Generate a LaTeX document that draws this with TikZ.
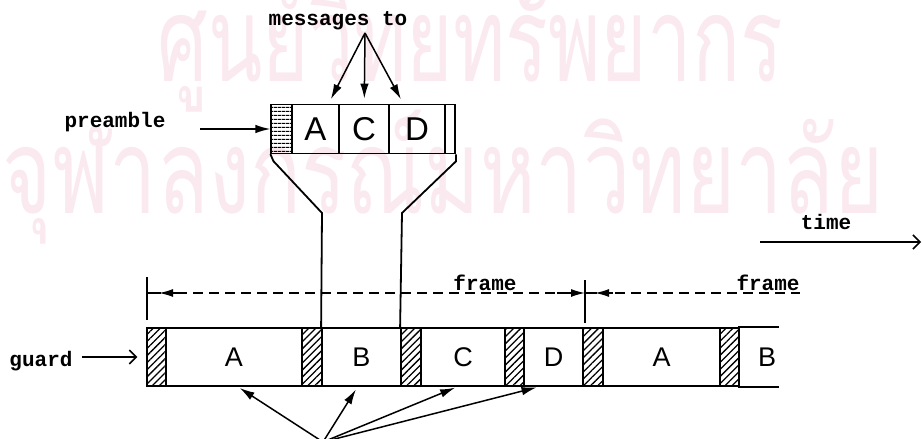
\documentclass[tikz,border=0pt]{standalone}
\usepackage{graphicx}
\usepackage{fontspec}
\setmainfont{Liberation Sans}
\newfontfamily\monofont{Liberation Mono}
\newfontfamily\thaifont[Script=Thai]{Loma}
\usetikzlibrary{arrows.meta,patterns.meta,calc}
\definecolor{wmark}{RGB}{251,233,240}

\begin{document}
\begin{tikzpicture}[x=1pt,y=-1pt,
  line width=1.8pt,
  lbl/.style={font=\monofont\bfseries\fontsize{21}{21}\selectfont, inner sep=0pt},
  cell/.style={draw, rectangle, inner sep=0pt, minimum height=58pt,
               font=\fontsize{27}{27}\selectfont},
  guardcell/.style={cell, pattern={Lines[angle=45,distance=5pt,line width=1.3pt]}},
  topcell/.style={draw, rectangle, inner sep=0pt, minimum height=49pt,
               font=\fontsize{33}{33}\selectfont},
  arr/.style={line width=1.5pt, -{Latex[length=15pt,width=8.5pt]}},
  barb/.style={line width=1.5pt, -{Straight Barb[length=7pt,width=14pt]}},
  dim/.style={line width=1.4pt, dash pattern=on 10pt off 6pt},
  wm/.style={anchor=base west, inner sep=0pt, text=wmark,
             font=\thaifont\fontsize{118}{118}\selectfont}
]
\useasboundingbox (0,0) rectangle (922,439);

% background watermark
\node[wm] (wm1) at (157,81) {\resizebox{625pt}{\height}{ศูนย์วิทยทรัพยากร}};
\node[wm] (wm2) at (2,213) {\resizebox{881pt}{\height}{จุฬาลงกรณ์มหาวิทยาลัย}};

% ---- burst on top ----
\node[topcell, minimum width=21pt,
      pattern={Lines[angle=0,distance=4pt,line width=1.2pt]}] (pre) at (281.5,129) {};
\node[topcell, minimum width=47pt] (tA) at (315.5,129) {A};
\node[topcell, minimum width=50pt] (tC) at (364,129) {C};
\node[topcell, minimum width=56pt] (tD) at (417,129) {D};
\node[topcell, minimum width=10pt] (tslot) at (450,129) {};

\node[lbl, anchor=base] (msg) at (338,25) {messages to};
\coordinate (apex) at (365,33);
\draw[arr, shorten >=5pt] (apex) -- (tA);
\draw[arr, shorten >=5pt] (apex) -- (tC);
\draw[arr, shorten >=5pt] (apex) -- (tD);

\node[lbl, anchor=base] (prelbl) at (115,127) {preamble};
\draw[arr, shorten <=34pt] (prelbl.east |- pre.west) -- (pre.west);

% ---- frame strip ----
\node[guardcell, minimum width=19pt]  (g1)  at (156.5,357) {};
\node[cell,      minimum width=136pt] (sA)  at (234,357) {A};
\node[guardcell, minimum width=20pt]  (g2)  at (312,357) {};
\node[cell,      minimum width=79pt]  (sB)  at (361.5,357) {B};
\node[guardcell, minimum width=20pt]  (g3)  at (411,357) {};
\node[cell,      minimum width=84pt]  (sC)  at (463,357) {C};
\node[guardcell, minimum width=19pt]  (g4)  at (514.5,357) {};
\node[cell,      minimum width=59pt]  (sD)  at (553.5,357) {D};
\node[guardcell, minimum width=20pt]  (g5)  at (593,357) {};
\node[cell,      minimum width=117pt] (sA2) at (661.5,357) {A};
\node[guardcell, minimum width=19pt]  (g6)  at (729.5,357) {};
\node[inner sep=0pt, minimum width=39pt, minimum height=58pt] (sB2) at (758.5,357) {};
\node[inner sep=0pt, font=\fontsize{27}{27}\selectfont] (sB2t) at (767,357) {B};
\draw (sB2.north west) -- (sB2.north east);
\draw (sB2.south west) -- (sB2.south east);

% neck joining the burst to slot B
\coordinate (neckL) at (322,213);
\coordinate (neckR) at (402,213);
\draw (pre.south west) -- ++(3,7) -- (neckL) -- (sB.north west);
\draw (tslot.south east) -- ++(0,7) -- (neckR) -- (g3.north west);

\node[lbl, anchor=base] (guardlbl) at (41,366) {guard};
\draw[barb, shorten <=9pt, shorten >=9pt] (guardlbl.east |- g1.west) -- (g1.west);

% ---- frame dimensions ----
\coordinate (t1a) at (147,277);
\coordinate (t1b) at (147,320);
\coordinate (t2a) at (585,280);
\coordinate (t2b) at (585,323);
\draw[line width=1.4pt] (t1a) -- (t1b);
\draw[line width=1.4pt] (t2a) -- (t2b);

\coordinate (d1s) at (147,293);
\coordinate (d1e) at (585,293);
\draw[line width=1.4pt] (d1s) -- ++(14,0);
\draw[line width=1.4pt, {Latex[length=14pt,width=8pt]}-] ($(d1s)+(12,0)$) -- ++(18,0);
\draw[dim] ($(d1s)+(30,0)$) -- ($(d1e)+(-28,0)$);
\draw[line width=1.4pt, -{Latex[length=14pt,width=8pt]}] ($(d1e)+(-28,0)$) -- (d1e);
\node[lbl, anchor=base] (fr1) at (485,290) {frame};

\draw[line width=1.4pt] (d1e) -- ++(12,0);
\draw[line width=1.4pt, {Latex[length=14pt,width=8pt]}-] ($(d1e)+(10,0)$) -- ++(18,0);
\coordinate (d2e) at (800,293);
\draw[dim] ($(d1e)+(30,0)$) -- (d2e);
\node[lbl, anchor=base] (fr2) at (768,290) {frame};

% ---- time axis ----
\node[lbl, anchor=base] (timelbl) at (826,229) {time};
\coordinate (ts) at (760,242);
\coordinate (te) at (921,242);
\draw[barb] (ts) -- (te);

% ---- pointers from below ----
\coordinate (low) at (323,442);
\draw[arr, shorten >=2pt] (low) -- ([xshift=4pt]sA.south);
\draw[arr, shorten >=3pt] (low) -- ([xshift=-4pt]sB.south);
\draw[arr, shorten >=2pt] (low) -- ([xshift=-6pt]sC.south);
\draw[arr, shorten >=2pt] (low) -- ([xshift=-15pt]sD.south);
\end{tikzpicture}
\end{document}
